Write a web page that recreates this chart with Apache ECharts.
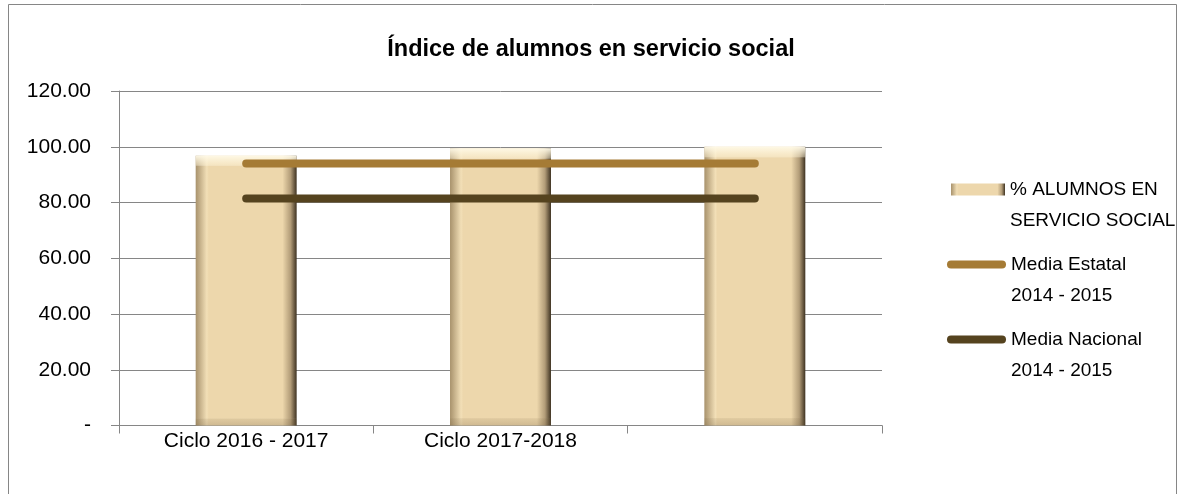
<!DOCTYPE html>
<html>
<head>
<meta charset="utf-8">
<script src="https://cdn.jsdelivr.net/npm/echarts@6/dist/echarts.min.js"></script>
<style>
  html, body { margin: 0; padding: 0; background: #fff; }
  #chart { width: 1182px; height: 494px; }
</style>
</head>
<body>
<div id="chart"></div>
<script>
// ---- data ----
const categories = ['Ciclo 2016 - 2017', 'Ciclo 2017-2018', ''];
const alumnosServicio = [96.8, 99.4, 100.0];
const mediaEstatal = [94.0, 94.0, 94.0];
const mediaNacional = [81.4, 81.4, 81.4];
const yTickLabels = ['-', '20.00', '40.00', '60.00', '80.00', '100.00', '120.00'];
const seriesNames = ['% ALUMNOS EN\nSERVICIO SOCIAL', 'Media Estatal\n2014 - 2015', 'Media Nacional\n2014 - 2015'];

const FONT = "'Liberation Sans', Arial, sans-serif";
const GRID_COLOR = '#868686';

const chart = echarts.init(document.getElementById('chart'), null, { renderer: 'canvas' });

const barFill = new echarts.graphic.LinearGradient(0, 0, 1, 0, [
  { offset: 0, color: '#a8926c' },
  { offset: 0.11, color: '#f2dfb7' },
  { offset: 0.13, color: '#EDD7AC' },
  { offset: 0.86, color: '#EDD7AC' },
  { offset: 0.94, color: '#b29c78' },
  { offset: 1, color: '#3e3221' }
]);
const bevelOverlay = new echarts.graphic.LinearGradient(0, 0, 0, 1, [
  { offset: 0, color: 'rgba(255,250,232,0.95)' },
  { offset: 0.035, color: 'rgba(255,246,220,0.45)' },
  { offset: 0.04, color: 'rgba(255,255,255,0)' },
  { offset: 0.972, color: 'rgba(255,255,255,0)' },
  { offset: 0.975, color: 'rgba(120,100,65,0.12)' },
  { offset: 1, color: 'rgba(100,80,50,0.22)' }
]);

const capsule = 'path://M4,0 L55,0 A4,4 0 0 1 55,8 L4,8 A4,4 0 0 1 4,0 Z';

function legendFor(name, top, left, icon, w, h) {
  return {
    data: [{ name: name, icon: icon }],
    orient: 'vertical',
    left: left,
    top: top,
    padding: 0,
    itemWidth: w,
    itemHeight: h,
    selectedMode: false,
    formatter: function (n) { return '\n' + n; },
    textStyle: { fontFamily: FONT, fontSize: 19, color: '#000', lineHeight: 31 }
  };
}

chart.setOption({
  animation: false,
  backgroundColor: '#fff',
  title: {
    text: 'Índice de alumnos en servicio social',
    left: 'center',
    top: 33,
    textStyle: { fontFamily: FONT, fontSize: 23.5, fontWeight: 'bold', color: '#000' }
  },
  graphic: [{
    type: 'rect',
    shape: { x: 8.5, y: 4.5, width: 1168, height: 500 },
    style: { fill: 'none', stroke: GRID_COLOR, lineWidth: 1 },
    silent: true,
    z: -10
  }],
  legend: [
    legendFor(seriesNames[0], 143, 951, 'rect', 54, 12),
    legendFor(seriesNames[1], 218, 947, capsule, 59, 8),
    legendFor(seriesNames[2], 293, 947, capsule, 59, 8)
  ],
  grid: { left: 119, right: 300, top: 91, bottom: 68.5, containLabel: false },
  xAxis: {
    type: 'category',
    data: categories,
    boundaryGap: true,
    axisLine: { lineStyle: { color: GRID_COLOR, width: 1 } },
    axisTick: { show: true, length: 8, alignWithLabel: false, lineStyle: { color: GRID_COLOR } },
    axisLabel: { margin: 5, fontFamily: FONT, fontSize: 21, color: '#000', interval: 0 },
    splitLine: { show: false }
  },
  yAxis: {
    type: 'value',
    min: 0,
    max: 120,
    interval: 20,
    axisLine: { show: true, lineStyle: { color: GRID_COLOR, width: 1 } },
    axisTick: { show: true, length: 8, lineStyle: { color: GRID_COLOR } },
    axisLabel: {
      margin: 28,
      fontFamily: FONT,
      fontSize: 21,
      color: '#000',
      formatter: function (v) { return yTickLabels[Math.round(v / 20)]; }
    },
    splitLine: { show: true, lineStyle: { color: GRID_COLOR, width: 1 } }
  },
  series: [
    {
      name: seriesNames[0],
      type: 'bar',
      data: alumnosServicio,
      barWidth: '39.7%',
      itemStyle: { color: barFill },
      z: 2
    },
    {
      name: '__bevel',
      type: 'bar',
      data: alumnosServicio,
      barWidth: '39.7%',
      barGap: '-100%',
      silent: true,
      itemStyle: { color: bevelOverlay },
      z: 3
    },
    {
      name: seriesNames[1],
      type: 'line',
      data: mediaEstatal,
      symbol: 'none',
      lineStyle: { color: '#A57B35', width: 8, cap: 'round' },
      itemStyle: { color: '#A57B35' },
      z: 5
    },
    {
      name: seriesNames[2],
      type: 'line',
      data: mediaNacional,
      symbol: 'none',
      lineStyle: { color: '#55431F', width: 8, cap: 'round' },
      itemStyle: { color: '#55431F' },
      z: 5
    }
  ]
});
</script>
</body>
</html>
